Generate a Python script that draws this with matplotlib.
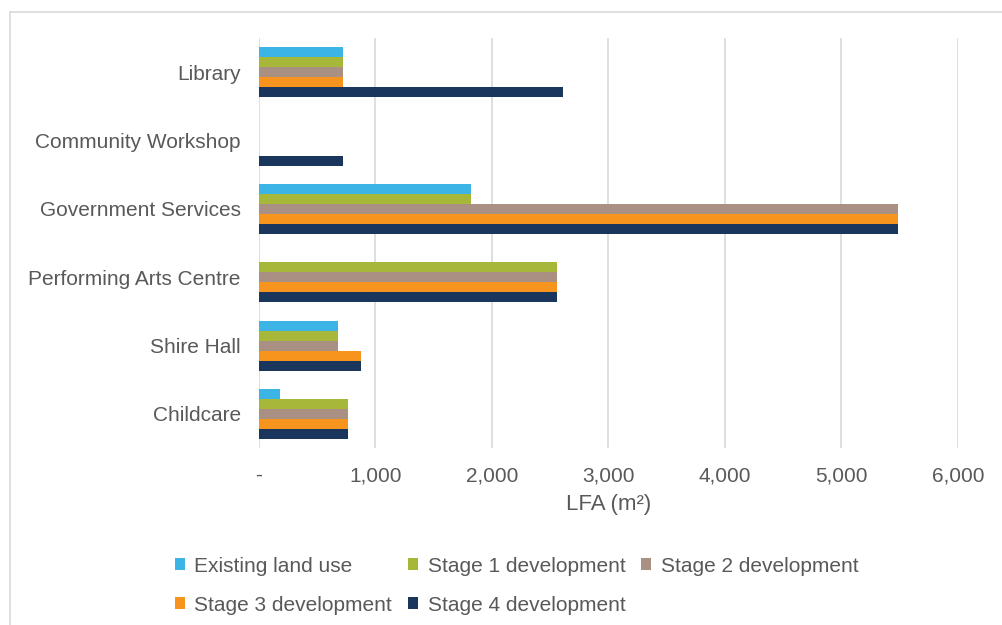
import matplotlib

matplotlib.use("Agg")
import matplotlib.pyplot as plt
import numpy as np
from matplotlib.lines import Line2D
from matplotlib.patches import Patch

plt.rcParams["font.family"] = ["Liberation Sans", "DejaVu Sans"]

# ─── Data ─────────────────────────────────────────────────────────────────────
categories = [
    "Library",
    "Community Workshop",
    "Government Services",
    "Performing Arts Centre",
    "Shire Hall",
    "Childcare",
]
series_names = [
    "Existing land use",
    "Stage 1 development",
    "Stage 2 development",
    "Stage 3 development",
    "Stage 4 development",
]
existing = [725, 0, 1825, 0, 683, 186]
stage1 = [725, 0, 1825, 2562, 683, 763]
stage2 = [725, 0, 5490, 2562, 683, 763]
stage3 = [725, 0, 5490, 2562, 877, 763]
stage4 = [2615, 720, 5490, 2562, 877, 763]
colors = ["#3cb4e6", "#a7b73a", "#a99083", "#f7941d", "#1b365d"]

TEXT = "#595959"
GRID = "#d9d9d9"
FS = 15

# ─── Plot ─────────────────────────────────────────────────────────────────────
fig = plt.figure(figsize=(10.03, 6.25), dpi=100)
ax = fig.add_axes([0.258, 0.283, 0.697, 0.656])

all_series = [existing, stage1, stage2, stage3, stage4]
n = len(all_series)
h = 0.146
# categories listed top to bottom
ypos = np.arange(len(categories))[::-1]
for k, (vals, col, name) in enumerate(zip(all_series, colors, series_names)):
    offset = (n - 1) / 2 * h - k * h
    ax.barh(ypos + offset, vals, height=h, color=col, label=name, zorder=3)

ax.set_xlim(0, 6000)
ax.set_ylim(-0.5, len(categories) - 0.5)
ax.set_yticks(ypos)
ax.set_yticklabels(categories, fontsize=FS, color=TEXT)
ax.set_xticks(range(0, 6001, 1000))
ax.set_xticklabels(["-"] + [f"{v:,}" for v in range(1000, 6001, 1000)],
                   fontsize=FS, color=TEXT)
ax.tick_params(axis="y", length=0, pad=13)
ax.tick_params(axis="x", length=0, pad=13)
ax.set_xlabel("LFA (m²)", fontsize=FS + 1, color=TEXT, labelpad=6)
ax.grid(True, axis="x", color=GRID, linewidth=1.2, zorder=0)
for s in ax.spines.values():
    s.set_visible(False)

# legend in row-major order (matplotlib fills columns first)
handles = [Patch(facecolor=c) for c in colors]
order = [0, 3, 1, 4, 2]
leg = fig.legend(
    [handles[i] for i in order],
    [series_names[i] for i in order],
    ncol=3,
    loc="center",
    bbox_to_anchor=(0.515, 0.063),
    frameon=False,
    fontsize=FS,
    handlelength=0.5,
    handleheight=0.5,
    handletextpad=0.45,
    columnspacing=0.75,
    labelspacing=0.95,
)
for t in leg.get_texts():
    t.set_color(TEXT)

# chart border (top and left edges visible)
fig.add_artist(Line2D([10 / 1003, 1.0], [1 - 12 / 625] * 2, color=GRID, lw=1.2))
fig.add_artist(Line2D([10 / 1003] * 2, [0.0, 1 - 12 / 625], color=GRID, lw=1.2))

fig.savefig("out.png", dpi=100, facecolor="white")
